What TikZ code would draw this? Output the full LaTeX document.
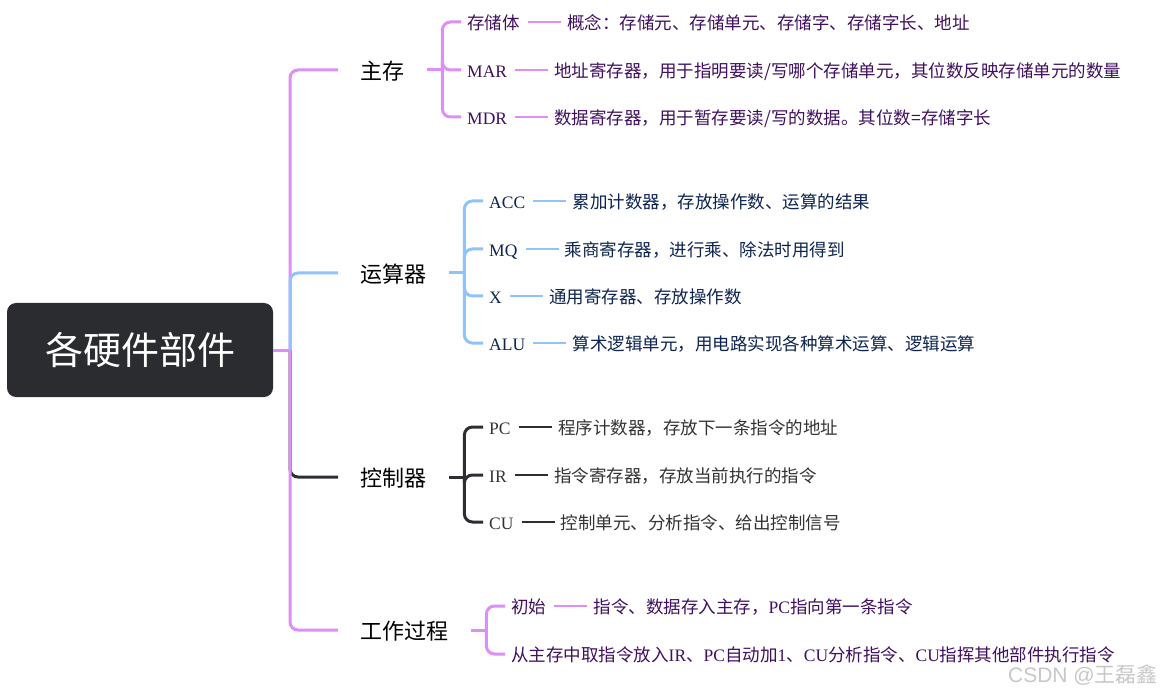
\documentclass[tikz,border=0pt]{standalone}
\usepackage{fontspec}
\setmainfont{Liberation Serif}
\newfontfamily\cjk{Noto Sans CJK SC}
\newfontfamily\wmfont{Liberation Sans}
\usetikzlibrary{positioning}

\definecolor{linep}{HTML}{DD8EF8}
\definecolor{lineb}{HTML}{8EC4FA}
\definecolor{linek}{HTML}{2D2E32}
\definecolor{textp}{HTML}{400F60}
\definecolor{textb}{HTML}{0D2350}
\definecolor{textk}{HTML}{333333}
\definecolor{rootfill}{HTML}{2B2C30}

\tikzset{
  rootbox/.style={rectangle,fill=rootfill,rounded corners=9pt,minimum width=266pt,minimum height=94pt,text=white,font=\cjk\fontsize{38}{40}\selectfont},
  partlbl/.style={anchor=west,inner sep=0pt,text height=21pt,text depth=1.2pt,text=black,font=\cjk\fontsize{22}{26}\selectfont},
  sublbl/.style={anchor=west,inner sep=0pt,text height=16.5pt,text depth=0.7pt,font=\fontsize{17.5}{21}\selectfont},
  pline/.style={draw=linep,line width=3pt,rounded corners=8pt},
  bline/.style={draw=lineb,line width=3pt,rounded corners=8pt},
  kline/.style={draw=linek,line width=3pt,rounded corners=8pt},
  pleaf/.style={draw=linep,line width=2pt},
  bleaf/.style={draw=lineb,line width=2pt},
  kleaf/.style={draw=linek,line width=2pt}
}

\begin{document}
\begin{tikzpicture}[x=1pt,y=-1pt]
\useasboundingbox (0,0) rectangle (1161,692);
% root and main parts
\node[rootbox] (root) at (140,350) {各硬件部件};
\coordinate (hub) at (290,350);
\node[partlbl] (mem) at (360,70) {主存};
\node[partlbl] (calc) at (360,273) {运算器};
\node[partlbl] (ctrl) at (360,477) {控制器};
\node[partlbl] (work) at (360,630) {工作过程};
\draw[kline] (hub) |- ([xshift=-22pt]ctrl.west);
\draw[pline] (root.east) -- (hub);
\draw[pline] (hub) |- ([xshift=-22pt]mem.west);
\draw[pline] (hub) |- ([xshift=-22pt]work.west);
\draw[bline] (hub) |- ([xshift=-22pt]calc.west);

% 主存
\coordinate (memj) at ([xshift=38pt]mem.east);
\draw[pline] ([xshift=23pt]mem.east) -- (memj);
\node[sublbl,text=textp] (m1) at (467,22) {\cjk 存储体};
\node[sublbl,text=textp] (m2) at (467,70) {MAR};
\node[sublbl,text=textp] (m3) at (467,117) {MDR};
\node[sublbl,text=textp,right=47pt of m1] (m1n) {\cjk 概念：存储元、存储单元、存储字、存储字长、地址};
\node[sublbl,text=textp,right=47pt of m2] (m2n) {\cjk 地址寄存器，用于指明要读/写哪个存储单元，其位数反映存储单元的数量};
\node[sublbl,text=textp,right=47pt of m3] (m3n) {\cjk 数据寄存器，用于暂存要读/写的数据。其位数=存储字长};
\foreach \c in {m1,m2,m3} {
  \draw[pline] (memj) |- ([xshift=-6pt]\c.west);
  \draw[pleaf] ([xshift=8pt]\c.east) -- ([xshift=-6pt]\c n.west);
}

% 运算器
\coordinate (calcj) at ([xshift=38pt]calc.east);
\draw[bline] ([xshift=23pt]calc.east) -- (calcj);
\node[sublbl,text=textb] (a1) at (489,201) {ACC};
\node[sublbl,text=textb] (a2) at (489,249) {MQ};
\node[sublbl,text=textb] (a3) at (489,296) {X};
\node[sublbl,text=textb] (a4) at (489,343) {ALU};
\node[sublbl,text=textb,right=47pt of a1] (a1n) {\cjk 累加计数器，存放操作数、运算的结果};
\node[sublbl,text=textb,right=47pt of a2] (a2n) {\cjk 乘商寄存器，进行乘、除法时用得到};
\node[sublbl,text=textb,right=47pt of a3] (a3n) {\cjk 通用寄存器、存放操作数};
\node[sublbl,text=textb,right=47pt of a4] (a4n) {\cjk 算术逻辑单元，用电路实现各种算术运算、逻辑运算};
\foreach \c in {a1,a2,a3,a4} {
  \draw[bline] (calcj) |- ([xshift=-6pt]\c.west);
  \draw[bleaf] ([xshift=8pt]\c.east) -- ([xshift=-6pt]\c n.west);
}

% 控制器
\coordinate (ctrlj) at ([xshift=38pt]ctrl.east);
\draw[kline] ([xshift=23pt]ctrl.east) -- (ctrlj);
\node[sublbl,text=textk] (c1) at (489,427) {PC};
\node[sublbl,text=textk] (c2) at (489,475) {IR};
\node[sublbl,text=textk] (c3) at (489,522) {CU};
\node[sublbl,text=textk,right=47pt of c1] (c1n) {\cjk 程序计数器，存放下一条指令的地址};
\node[sublbl,text=textk,right=47pt of c2] (c2n) {\cjk 指令寄存器，存放当前执行的指令};
\node[sublbl,text=textk,right=47pt of c3] (c3n) {\cjk 控制单元、分析指令、给出控制信号};
\foreach \c in {c1,c2,c3} {
  \draw[kline] (ctrlj) |- ([xshift=-6pt]\c.west);
  \draw[kleaf] ([xshift=8pt]\c.east) -- ([xshift=-6pt]\c n.west);
}

% 工作过程
\coordinate (workj) at ([xshift=38pt]work.east);
\draw[pline] ([xshift=23pt]work.east) -- (workj);
\node[sublbl,text=textp] (w1) at (511,606) {\cjk 初始};
\node[sublbl,text=textp] (w2) at (511,654) {{\cjk 从主存中取指令放入}IR{\cjk 、}PC{\cjk 自动加}1{\cjk 、}CU{\cjk 分析指令、}CU{\cjk 指挥其他部件执行指令}};
\node[sublbl,text=textp,right=47pt of w1] (w1n) {{\cjk 指令、数据存入主存，}PC{\cjk 指向第一条指令}};
\draw[pline] (workj) |- ([xshift=-6pt]w1.west);
\draw[pline] (workj) |- ([xshift=-6pt]w2.west);
\draw[pleaf] ([xshift=8pt]w1.east) -- ([xshift=-6pt]w1n.west);

\node[anchor=east,inner sep=0pt,text height=15pt,text depth=3pt,text=black!22,font=\wmfont\fontsize{21}{24}\selectfont] (mark) at (1158,676) {CSDN @{\cjk 王磊鑫}};
\end{tikzpicture}
\end{document}
